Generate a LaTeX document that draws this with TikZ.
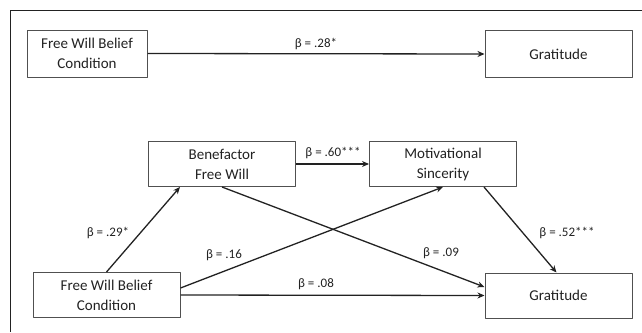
\documentclass[tikz,border=0pt]{standalone}
\usepackage{fontspec}
\setmainfont{Carlito}
\usepackage{xcolor}
\usetikzlibrary{arrows.meta,positioning,calc}
\definecolor{boxline}{HTML}{505050}
\definecolor{ink}{HTML}{222222}
\tikzset{
    every picture/.style={line join=round},
    varbox/.style={draw=boxline,fill=white,line width=1pt,
      minimum width=147pt,minimum height=45pt,inner sep=2pt,
      font=\fontsize{15}{20}\selectfont,align=center,text=ink},
    patharrow/.style={-{Stealth[length=7pt,width=6pt]},draw=ink,
      line width=1.3pt},
    coeflabel/.style={font=\fontsize{13}{15}\selectfont,text=ink,inner sep=1pt}
}

\begin{document}
\begin{tikzpicture}[x=1pt,y=-1pt]
  \useasboundingbox (0,0) rectangle (642,332);
  % frame
  \draw[ink,line width=1pt] (642,10) -- (10,10) -- (10,332);
  % total effect
  \node[varbox,minimum width=120pt,minimum height=47pt] (cond1) at (87,53.5)
    {Free Will Belief\\Condition};
  \node[varbox,minimum height=47pt] (grat1) at (558.5,54) {Gratitude};
  \draw[patharrow] (cond1.east) -- (grat1.west);
  \node[coeflabel] at (316,44) {β = .28*};
  % mediation model
  \node[varbox] (bene) at (222,164) {Benefactor\\Free Will};
  \node[varbox] (motiv) at (443,164) {Motivational\\Sincerity};
  \node[varbox] (cond2) at (106.5,295) {Free Will Belief\\Condition};
  \node[varbox] (grat2) at (558.5,295.5) {Gratitude};
  \draw[patharrow] (cond2.north) -- ([xshift=-42pt]bene.south);
  \draw[patharrow] (bene.east) -- (motiv.west);
  \draw[patharrow] (bene.south) -- ([yshift=8.5pt]grat2.west);
  \draw[patharrow] ([yshift=7pt]cond2.east) -- (motiv.south);
  \draw[patharrow] (cond2.east) -- (grat2.west);
  \draw[patharrow] ([xshift=41pt]motiv.south) -- ([xshift=-2pt]grat2.north);
  \node[coeflabel] at (108,233) {β = .29*};
  \node[coeflabel] at (333,153) {β = .60***};
  \node[coeflabel] at (224,255) {β = .16};
  \node[coeflabel] at (441,253) {β = .09};
  \node[coeflabel] at (316,284) {β = .08};
  \node[coeflabel] at (567,233) {β = .52***};
\end{tikzpicture}
\end{document}
